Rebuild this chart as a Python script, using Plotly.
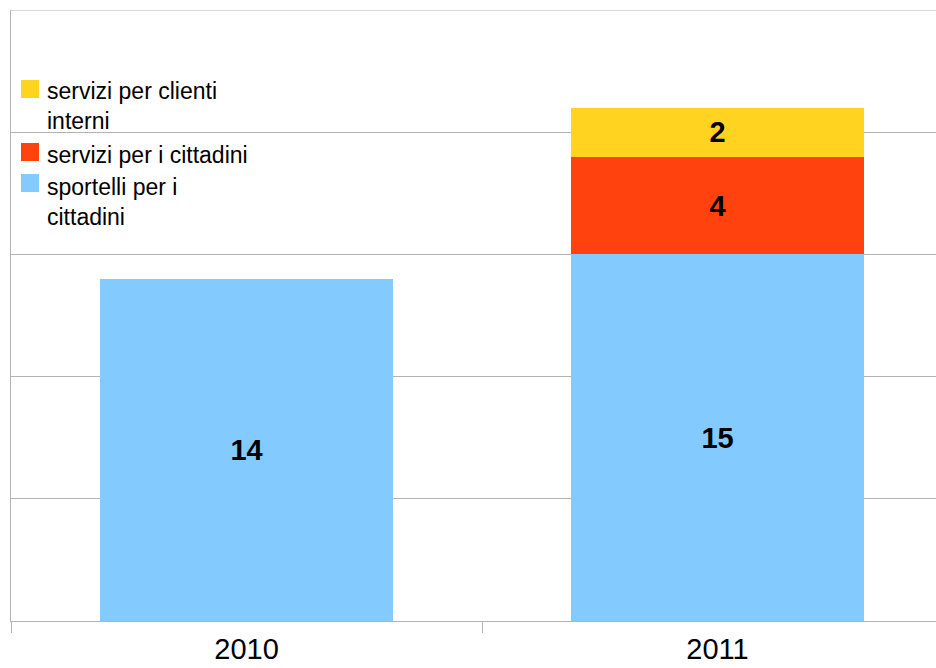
import plotly.graph_objects as go

categories = ["2010", "2011"]
series_names = ["sportelli per i<br>cittadini", "servizi per i cittadini", "servizi per clienti<br>interni"]
series_values = [
    [14, 15],
    [None, 4],
    [None, 2],
]
series_colors = ["#83CAFF", "#FF420E", "#FFD320"]

W, H = 936, 668
ML, MR, MT, MB = 11, 0, 10, 47
pw = W - ML - MR
ph = H - MT - MB

fig = go.Figure()
for name, vals, col in zip(series_names, series_values, series_colors):
    fig.add_trace(go.Bar(
        x=categories, y=vals, name=name,
        marker=dict(color=col, line=dict(width=0)),
        width=0.624,
        text=[("" if v is None else str(v)) for v in vals],
        textposition="inside", insidetextanchor="middle",
        textfont=dict(family="Liberation Sans", size=29, color="black", weight="bold"),
        textangle=0,
        showlegend=False,
    ))

# manual legend (top entry = last series)
def px_to_paper(x, y):
    return (x - ML) / pw, (H - MB - y) / ph

legend_entries = [
    (series_names[2], series_colors[2], 80, 106),
    (series_names[1], series_colors[1], 143, 155),
    (series_names[0], series_colors[0], 174, 202),
]
for name, col, top, mid in legend_entries:
    x0, y0 = px_to_paper(21, top)
    x1, y1 = px_to_paper(39, top + 18)
    fig.add_shape(type="rect", xref="paper", yref="paper",
                  x0=x0, x1=x1, y0=y1, y1=y0,
                  fillcolor=col, line=dict(width=0))
    tx, ty = px_to_paper(45, mid)
    fig.add_annotation(xref="paper", yref="paper", x=tx, y=ty,
                       text=name, showarrow=False, xanchor="left", yanchor="middle",
                       align="left",
                       font=dict(family="Liberation Sans", size=23, color="black"))

# top gridline at the upper edge of the plot area
fig.add_shape(type="line", xref="paper", yref="y", x0=0, x1=1, y0=25, y1=25,
              line=dict(color="#b3b3b3", width=1), layer="below")

fig.update_layout(
    width=W, height=H,
    margin=dict(l=ML, r=MR, t=MT, b=MB, pad=0, autoexpand=False),
    barmode="stack",
    plot_bgcolor="white", paper_bgcolor="white",
    showlegend=False,
    xaxis=dict(
        type="category",
        range=[-0.5, -0.5 + pw / 471.0],
        showline=True, linecolor="#b3b3b3", linewidth=1,
        ticks="outside", tickson="boundaries", ticklen=11, tickcolor="#b3b3b3",
        showgrid=False, automargin=False,
        ticklabelstandoff=2,
        tickfont=dict(family="Liberation Sans", size=29, color="black"),
    ),
    yaxis=dict(
        range=[0, 25], dtick=5, automargin=False,
        showgrid=True, gridcolor="#b3b3b3", gridwidth=1,
        showline=True, linecolor="#b3b3b3", linewidth=1,
        showticklabels=False, ticks="", zeroline=False,
    ),
)

fig.write_html("out.html")
